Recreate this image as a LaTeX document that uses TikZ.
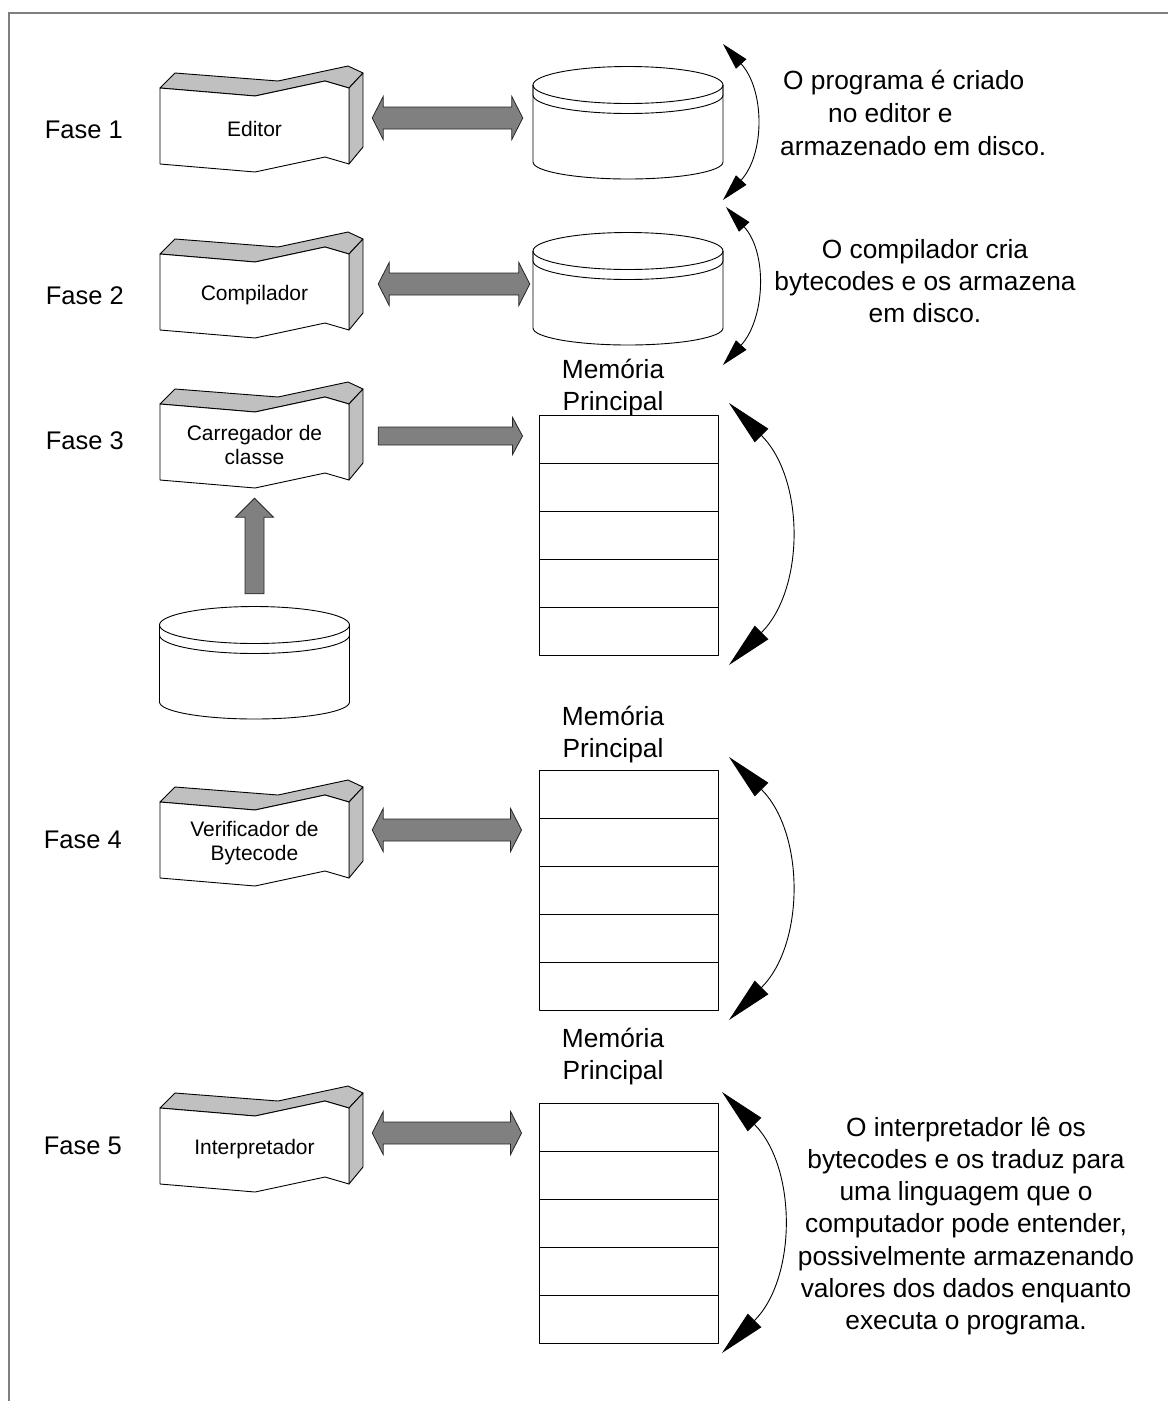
\documentclass[tikz,border=0pt]{standalone}
\usepackage{fontspec}
\setmainfont{Liberation Sans}
\usetikzlibrary{arrows.meta,calc}

\definecolor{facegray}{HTML}{C0C0C0}
\definecolor{arrowgray}{HTML}{808080}
\definecolor{framegray}{HTML}{7F7F7F}

\tikzset{
  outline/.style={draw=black, line width=0.9pt, line join=round},
  face/.style={outline, fill=facegray},
  frontface/.style={outline, fill=white},
  fatarrow/.style={draw=black!85, line width=0.8pt, fill=arrowgray, line join=miter},
  holder/.style={inner sep=0pt, draw=none},
  biglabel/.style={font=\fontsize{25.5}{31}\selectfont, inner sep=0pt},
  memlabel/.style={font=\fontsize{26.3}{32}\selectfont, align=center, inner sep=0pt},
  righttext/.style={font=\fontsize{26.3}{32.2}\selectfont, align=center, inner sep=0pt},
  blocklabel/.style={font=\fontsize{21}{23.5}\selectfont, align=center, inner sep=0pt},
  cyclesmall/.style={line width=0.9pt, {Triangle[length=27pt,width=14pt]}-{Triangle[length=27pt,width=14pt]}},
  cyclebig/.style={line width=0.9pt, {Triangle[length=46pt,width=19pt]}-{Triangle[length=46pt,width=19pt]}},
}

% 3-D program block: name, x and y of the front face's top-left corner, label
\newcommand\stageblock[4]{%
  \draw[face] (#2,#3) -- (#2+15,#3-15) -- (#2+118,#3-7) -- (#2+188,#3-22) -- (#2+203,#3-15)
     -- (#2+189,#3) -- (#2+165,#3-7) -- (#2+95,#3+8) -- cycle;
  \draw[face] (#2+189,#3) -- (#2+203,#3-15) -- (#2+203,#3+59) -- (#2+189,#3+76) -- cycle;
  \draw[frontface] (#2,#3) -- (#2+95,#3+8) -- (#2+165,#3-7) -- (#2+189,#3) -- (#2+189,#3+76)
     -- (#2+165,#3+69) -- (#2+95,#3+84) -- (#2,#3+76) -- cycle;
  \node[holder, minimum width=189pt, minimum height=76pt] (#1) at (#2+94.5,#3+38) {};
  \node[blocklabel] (#1-text) at (#2+94.5,#3+41) {#4};
}

% disk drum: name, centre x, top of the lid
\newcommand\drum[3]{%
  \node[holder, minimum width=190pt, minimum height=113pt] (#1) at (#2,#3+56.5) {};
  \draw[outline, fill=white] (#2-95,#3+19) -- (#2-95,#3+96)
     arc[start angle=180, end angle=360, x radius=95pt, y radius=17pt] -- (#2+95,#3+19);
  \draw[outline] (#2,#3+19) ellipse[x radius=95pt, y radius=18.5pt];
  \draw[outline] (#2-95,#3+19) -- (#2-95,#3+29)
     arc[start angle=180, end angle=360, x radius=95pt, y radius=18.5pt] -- (#2+95,#3+19);
}

% main memory: name, left x, top y (five cells)
\newcommand\memstack[3]{%
  \node[outline, holder, draw=black, minimum width=179pt, minimum height=240pt] (#1) at (#2+89.5,#3+120) {};
  \foreach \k in {1,...,4} \draw[outline] (#2,#3+48*\k) -- (#2+179,#3+48*\k);
}

% wide grey two-way arrow between two points on one level
\newcommand\fatboth[2]{%
  \draw[fatarrow] let \p1=(#1), \p2=(#2) in
    (\x1,\y1) -- (\x1+11pt,\y1+21.5pt) -- (\x1+11pt,\y1+11pt) -- (\x2-11pt,\y1+11pt)
    -- (\x2-11pt,\y1+21.5pt) -- (\x2,\y1) -- (\x2-11pt,\y1-21.5pt) -- (\x2-11pt,\y1-11pt)
    -- (\x1+11pt,\y1-11pt) -- (\x1+11pt,\y1-21.5pt) -- cycle;
}
% wide grey arrow pointing right
\newcommand\fatright[2]{%
  \draw[fatarrow] let \p1=(#1), \p2=(#2) in
    (\x1,\y1+9pt) -- (\x2-10pt,\y1+9pt) -- (\x2-10pt,\y1+18.5pt) -- (\x2,\y1)
    -- (\x2-10pt,\y1-18.5pt) -- (\x2-10pt,\y1-9pt) -- (\x1,\y1-9pt) -- cycle;
}
% wide grey arrow pointing up
\newcommand\fatup[2]{%
  \draw[fatarrow] let \p1=(#1), \p2=(#2) in
    (\x2,\y2) -- (\x2+19pt,\y2-19pt) -- (\x2+9.5pt,\y2-19pt) -- (\x2+9.5pt,\y1)
    -- (\x2-9.5pt,\y1) -- (\x2-9.5pt,\y2-19pt) -- (\x2-19pt,\y2-19pt) -- cycle;
}

\begin{document}
\begin{tikzpicture}[x=1pt, y=-1pt]
\useasboundingbox (0,0) rectangle (1168,1401);

% page frame
\draw[framegray, line width=1.8pt] (8.9,1401) -- (8.9,12.7) -- (1168,12.7);

% ---- Fase 1
\node[biglabel, anchor=east] (f1) at (123,130) {Fase 1};
\stageblock{b1}{160}{88}{Editor}
\drum{c1}{628}{66}
\fatboth{$(b1.east)+(23,-8)$}{$(c1.west)+(-10,-4.5)$}
\coordinate (r1t) at (723,44);
\coordinate (r1b) at (723,200);
\draw[cyclesmall] (r1t) .. controls (765,90) and (765,154) .. (r1b);
\node[righttext, anchor=base west] (n1a) at (783,89) {O programa é criado};
\node[righttext, anchor=base west] (n1b) at (828,122) {no editor e};
\node[righttext, anchor=base west] (n1c) at (780,155) {armazenado em disco.};

% ---- Fase 2
\node[biglabel, anchor=east] (f2) at (124,296) {Fase 2};
\stageblock{b2}{160}{254}{Compilador}
\drum{c2}{628}{232}
\fatboth{$(b2.east)+(29,-8)$}{$(c2.west)+(-3,-4.5)$}
\coordinate (r2t) at (726,207);
\coordinate (r2b) at (723,365);
\draw[cyclesmall] (r2t) .. controls (768,253) and (765,319) .. (r2b);
\node[righttext] (n2) at (925,281) {O compilador cria\\bytecodes e os armazena\\em disco.};

% ---- Fase 3
\node[biglabel, anchor=east] (f3) at (124,441) {Fase 3};
\stageblock{b3}{160}{404}{Carregador de\\classe}
\memstack{m3}{539}{415}
\node[memlabel] (ml3) at (613,388) {Memória\\Principal};
\fatright{$(b3.east)+(29,-6)$}{$(m3.west)+(-16,0)$}
\drum{c3}{254.5}{606}
\fatup{$(c3.north)+(0,-12)$}{$(b3.south)+(0,18)$}
\coordinate (r3t) at (729,403);
\coordinate (r3b) at (729,665);
\draw[cyclebig] (r3t) .. controls (805,479) and (805,589) .. (r3b);

% ---- Fase 4
\node[biglabel, anchor=east] (f4) at (122,840) {Fase 4};
\stageblock{b4}{160}{802}{Verificador de\\Bytecode}
\memstack{m4}{539}{770}
\node[memlabel] (ml4) at (613,735) {Memória\\Principal};
\fatboth{$(b4.east)+(23,-10)$}{$(m4.west)+(-17,0)$}
\coordinate (r4t) at (729,757);
\coordinate (r4b) at (729,1020);
\draw[cyclebig] (r4t) .. controls (805,833) and (805,944) .. (r4b);

% ---- Fase 5
\node[biglabel, anchor=east] (f5) at (122,1146) {Fase 5};
\stageblock{b5}{160}{1108}{Interpretador}
\memstack{m5}{539}{1103}
\node[memlabel] (ml5) at (613,1057) {Memória\\Principal};
\fatboth{$(b5.east)+(23,-13)$}{$(m5.west)+(-17,0)$}
\coordinate (r5t) at (722,1092);
\coordinate (r5b) at (722,1353);
\draw[cyclebig] (r5t) .. controls (797,1167) and (797,1278) .. (r5b);
\node[righttext] (n5) at (966,1226) {O interpretador lê os\\bytecodes e os traduz para\\uma linguagem que o\\computador pode entender,\\possivelmente armazenando\\valores dos dados enquanto\\executa o programa.};

\end{tikzpicture}
\end{document}
